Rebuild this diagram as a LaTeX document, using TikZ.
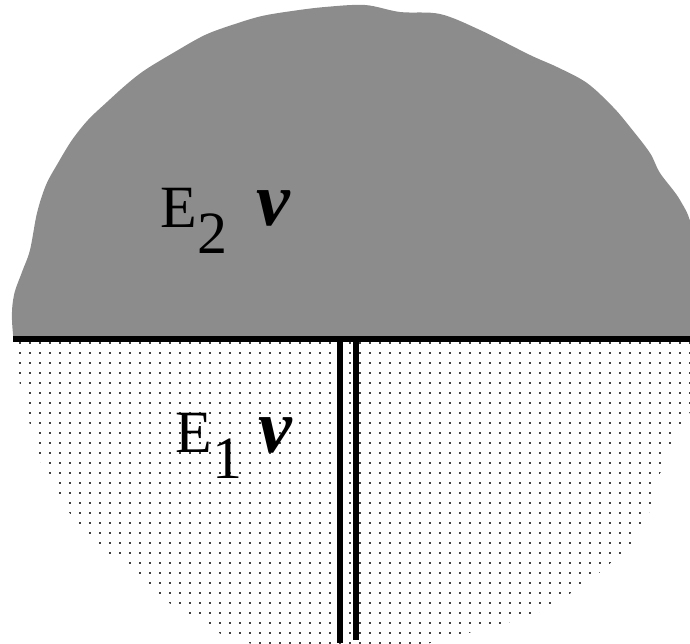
\documentclass[tikz,border=0pt]{standalone}
\usepackage{fontspec}
\setmainfont{Liberation Serif}
\usetikzlibrary{patterns}
\pgfdeclarepatternformonly{finedots}{\pgfqpoint{-2.5pt}{-2.5pt}}{\pgfqpoint{2.5pt}{2.5pt}}{\pgfqpoint{5pt}{5pt}}{%
  \pgfpathrectangle{\pgfqpoint{-0.7pt}{-0.7pt}}{\pgfqpoint{1.4pt}{1.4pt}}\pgfusepath{fill}}

\begin{document}
\begin{tikzpicture}[
    x=0.5pt, y=-0.5pt,
    wall/.style={line width=3pt},
    term/.style={font=\fontsize{30}{30}\selectfont, anchor=base west, inner sep=0pt},
    freq/.style={font=\fontsize{38}{38}\selectfont\bfseries\itshape, anchor=base west, inner sep=0pt}
]

\useasboundingbox (0,0) rectangle (690,643);

\begin{scope}
\clip (0,0) rectangle (690,643);
\clip plot[smooth cycle, tension=0.55] coordinates {
    (365,5) (400,12) (440,14) (480,30) (530,55) (557,67) (587,83) (613,107)
    (630,127) (650,153) (660,173) (680,200) (692,230) (696,300) (693,400)
    (680,425) (672,440) (665,465) (657,480) (649,513) (640,527) (630,545)
    (605,568) (583,585) (560,600) (537,613) (500,625) (440,640) (400,650)
    (300,650) (235,640) (207,625) (185,613) (165,600) (148,585) (130,567)
    (110,555) (90,538) (75,520) (63,503) (52,478) (38,457) (30,425) (22,395)
    (16,360) (12,320) (14,295) (22,272) (30,250) (37,213) (46,185) (58,163)
    (72,140) (88,120) (107,102) (127,84) (145,70) (173,53) (205,35) (235,24)
    (262,16) (292,11) (325,7)};
\fill[black!45] (0,0) rectangle (700,339);
\fill[pattern=finedots, pattern color=black!75] (0,339) rectangle (700,660);
\end{scope}

\coordinate (wl) at (13,339);
\coordinate (wr) at (690,339);
\coordinate (pa) at (340,339);
\coordinate (pb) at (340,643);
\coordinate (qa) at (356,339);
\coordinate (qb) at (356,640);

\draw[wall] (wl) -- (wr);
\draw[wall] (pa) -- (pb);
\draw[wall] (qa) -- (qb);

\node[term] (e2) at (160,227) {E\raisebox{-13pt}{2}};
\node[freq] (n2) at (256,225) {ν};
\node[term] (e1) at (175,452) {E\raisebox{-13pt}{1}};
\node[freq] (n1) at (258,452) {ν};

\end{tikzpicture}
\end{document}
